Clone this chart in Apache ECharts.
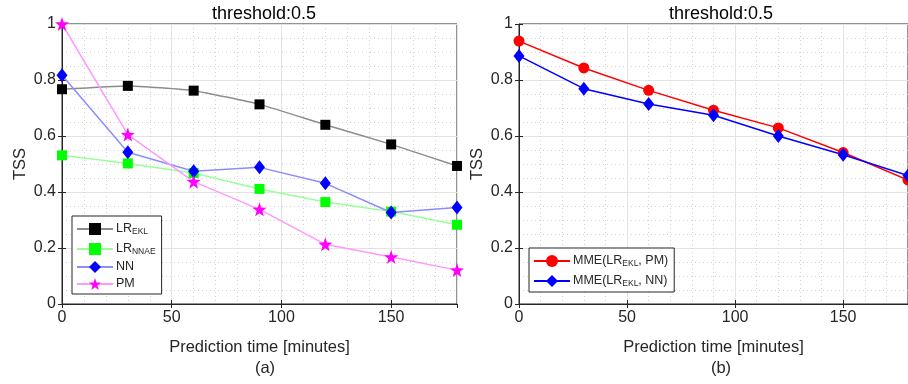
<!DOCTYPE html>
<html>
<head>
<meta charset="utf-8">
<script src="https://cdn.jsdelivr.net/npm/echarts@6/dist/echarts.min.js"></script>
<style>
  html, body { margin: 0; padding: 0; background: #fff; }
  #chart { width: 908px; height: 384px; }
</style>
</head>
<body>
<div id="chart"></div>
<script>
// prediction horizon (minutes) and TSS values
const timeMinutes = [0, 30, 60, 90, 120, 150, 180];
const lrEkl = [0.767, 0.779, 0.762, 0.713, 0.640, 0.570, 0.493];
const lrNnae = [0.531, 0.502, 0.468, 0.411, 0.364, 0.330, 0.283];
const nnTss = [0.817, 0.542, 0.474, 0.488, 0.431, 0.327, 0.345];
const pmTss = [1.0, 0.605, 0.437, 0.338, 0.213, 0.168, 0.121];
const mmePm = [0.939, 0.843, 0.763, 0.692, 0.629, 0.541, 0.443];
const mmeNn = [0.886, 0.769, 0.714, 0.674, 0.600, 0.533, 0.459];

const leftNames = ["LR_EKL", "LR_NNAE", "NN", "PM"];
const rightNames = ["MME(LR_EKL, PM)", "MME(LR_EKL, NN)"];
const xTicks = [0, 50, 100, 150];

const FONT = "Liberation Sans";
const TXT = "#262626";
const starPath = "path://M0,-10L2.35,-3.24L9.51,-3.09L3.8,1.24L5.88,8.09L0,4L-5.88,8.09L-3.8,1.24L-9.51,-3.09L-2.35,-3.24Z";

const chart = echarts.init(document.getElementById("chart"));

const pairs = (vals) => timeMinutes.map((t, i) => [t, vals[i]]);

// "LR_EKL" -> "{m|LR}{s|EKL}"
function subLabel(name) {
    return name
        .split(/_([A-Z]+)/)
        .map((part, i) => (i % 2 ? "{s|" + part + "}" : part ? "{m|" + part + "}" : ""))
        .join("");
}

function xAxisFor(grid, top) {
    return {
        type: "value",
        gridIndex: grid,
        position: top ? "top" : "bottom",
        min: 0,
        max: 180,
        interval: 50,
        name: top ? "" : "Prediction time [minutes]",
        nameLocation: "middle",
        nameGap: 35,
        nameTextStyle: { fontFamily: FONT, fontSize: 16.5, color: TXT },
        axisLine: { show: !top, lineStyle: { color: TXT, width: 1 } },
        axisTick: { show: true, inside: true, length: 4, lineStyle: { color: TXT } },
        axisLabel: {
            show: !top,
            showMaxLabel: false,
            margin: 6,
            fontFamily: FONT,
            fontSize: 16,
            color: TXT,
            formatter: (v) => (xTicks.includes(v) ? String(v) : ""),
        },
        splitLine: { show: !top, lineStyle: { color: "#e3e3e3", width: 1 } },
        minorTick: { show: false, splitNumber: 5 },
        minorSplitLine: { show: !top, lineStyle: { color: "#d2d2d2", type: [1, 3] } },
    };
}

function yAxisFor(grid, right) {
    return {
        type: "value",
        gridIndex: grid,
        position: right ? "right" : "left",
        min: 0,
        max: 1,
        interval: 0.2,
        name: right ? "" : "TSS",
        nameLocation: "middle",
        nameGap: 33,
        nameTextStyle: { fontFamily: FONT, fontSize: 16.5, color: TXT },
        axisLine: { show: !right, lineStyle: { color: TXT, width: 1 } },
        axisTick: { show: true, inside: true, length: 4, lineStyle: { color: TXT } },
        axisLabel: { show: !right, margin: 6, fontFamily: FONT, fontSize: 16, color: TXT },
        splitLine: { show: !right, lineStyle: { color: "#e3e3e3", width: 1 } },
        minorTick: { show: false, splitNumber: 4 },
        minorSplitLine: { show: !right, lineStyle: { color: "#d2d2d2", type: [1, 3] } },
    };
}

function lineSeries(name, vals, axis, line, mark, symbol, size, smooth) {
    return {
        name: name,
        type: "line",
        xAxisIndex: axis,
        yAxisIndex: axis,
        data: pairs(vals),
        smooth: smooth || false,
        symbol: symbol,
        symbolSize: size,
        showAllSymbol: true,
        lineStyle: { color: line, width: 1.5 },
        itemStyle: { color: mark, borderColor: mark, borderWidth: 0 },
        emphasis: { disabled: true },
    };
}

const legendStyle = {
    orient: "vertical",
    backgroundColor: "#fff",
    borderColor: TXT,
    borderWidth: 1,
    borderRadius: 0,
    itemWidth: 36,
    itemHeight: 15,
    itemGap: 4,
    padding: [4, 6, 4, 4],
    formatter: subLabel,
    textStyle: {
        fontFamily: FONT,
        color: TXT,
        padding: [0, 0, 0, -2],
        rich: {
            m: { fontFamily: FONT, fontSize: 12.5, color: TXT, lineHeight: 14, verticalAlign: "top" },
            s: { fontFamily: FONT, fontSize: 8.5, color: TXT, lineHeight: 10, padding: [7, 0, 0, 0], verticalAlign: "bottom" },
        },
    },
};

const option = {
    backgroundColor: "#fff",
    animation: false,
    title: [
        { text: "threshold:0.5", left: 259, top: 0, textAlign: "center", textStyle: { fontFamily: FONT, fontSize: 18, fontWeight: "normal", color: "#000" } },
        { text: "threshold:0.5", left: 716, top: 0, textAlign: "center", textStyle: { fontFamily: FONT, fontSize: 18, fontWeight: "normal", color: "#000" } },
        { text: "(a)", left: 260, top: 355, textAlign: "center", textStyle: { fontFamily: FONT, fontSize: 16.5, fontWeight: "normal", color: TXT } },
        { text: "(b)", left: 716, top: 355, textAlign: "center", textStyle: { fontFamily: FONT, fontSize: 16.5, fontWeight: "normal", color: TXT } },
    ],
    grid: [
        { left: 62, top: 24, width: 395, height: 280, show: true, backgroundColor: "#fff", borderColor: TXT, borderWidth: 1 },
        { left: 519, top: 24, width: 394, height: 280, show: true, backgroundColor: "#fff", borderColor: TXT, borderWidth: 1 },
    ],
    xAxis: [xAxisFor(0, false), xAxisFor(1, false), xAxisFor(0, true), xAxisFor(1, true)],
    yAxis: [yAxisFor(0, false), yAxisFor(1, false), yAxisFor(0, true), yAxisFor(1, true)],
    legend: [
        Object.assign({}, legendStyle, { data: leftNames, left: 72, top: 216 }),
        Object.assign({}, legendStyle, { data: rightNames, left: 529, top: 248 }),
    ],
    series: [
        lineSeries(leftNames[0], lrEkl, 0, "#8c8c8c", "#000000", "rect", 10, 0.15),
        lineSeries(leftNames[1], lrNnae, 0, "#99ff99", "#00ff00", "rect", 10),
        lineSeries(leftNames[2], nnTss, 0, "#8c8cff", "#0000ff", "diamond", [11, 14]),
        lineSeries(leftNames[3], pmTss, 0, "#ff99ff", "#ff00ff", starPath, 14),
        lineSeries(rightNames[0], mmePm, 1, "#ff0000", "#ff0000", "circle", 11),
        lineSeries(rightNames[1], mmeNn, 1, "#0000ff", "#0000ff", "diamond", [11, 14]),
    ],
};

chart.setOption(option);
</script>
</body>
</html>
